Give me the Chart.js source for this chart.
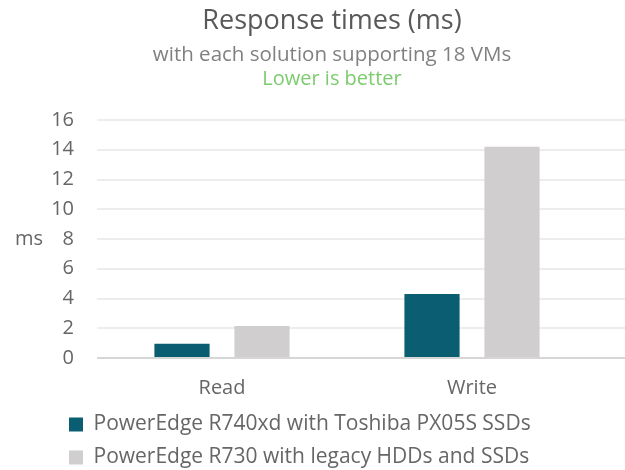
<!DOCTYPE html>
<html lang="en">
<head>
    <meta charset="UTF-8">
    <title>Response times (ms)</title>
    <script src="https://cdn.jsdelivr.net/npm/chart.js"></script>
    <style>
        body { margin: 0; background: #ffffff; overflow: hidden; }
        .chart-box { position: relative; width: 625px; height: 478px; }
    </style>
</head>
<body>
    <div class="chart-box">
        <canvas id="chart"></canvas>
    </div>
    <script>
        const categories = ['Read', 'Write'];
        const seriesNames = ['PowerEdge R740xd with Toshiba PX05S SSDs', 'PowerEdge R730 with legacy HDDs and SSDs'];
        const r740xdValues = [0.95, 4.3];
        const r730Values = [2.15, 14.2];
        const yTicks = [0, 2, 4, 6, 8, 10, 12, 14, 16];

        const font = '"Open Sans", Lato, Arial, sans-serif';

        // header texts, the y-axis "ms" label, grid lines running to the right edge, legend nudge
        const extras = {
            id: 'extras',
            afterLayout(chart) {
                chart.legend.left += 17;
            },
            beforeDatasetsDraw(chart) {
                const { ctx, chartArea, scales } = chart;
                ctx.save();
                ctx.lineWidth = 2;
                yTicks.forEach(v => {
                    const y = Math.round(scales.y.getPixelForValue(v));
                    ctx.strokeStyle = v === 0 ? '#d6d6d6' : '#ededed';
                    ctx.beginPath();
                    ctx.moveTo(chartArea.right, y);
                    ctx.lineTo(chart.width, y);
                    ctx.stroke();
                });
                ctx.restore();
            },
            afterDraw(chart) {
                const { ctx, chartArea } = chart;
                ctx.save();
                ctx.textAlign = 'center';
                ctx.textBaseline = 'alphabetic';
                ctx.font = '27px ' + font;
                ctx.fillStyle = '#595959';
                ctx.fillText('Response times (ms)', 332, 29);
                ctx.font = '20.5px ' + font;
                ctx.fillStyle = '#808080';
                ctx.fillText('with each solution supporting 18 VMs', 332, 61);
                ctx.font = '20px ' + font;
                ctx.fillStyle = '#7ccb6f';
                ctx.fillText('Lower is better', 332, 85);
                ctx.textBaseline = 'middle';
                ctx.fillStyle = '#666666';
                ctx.fillText('ms', 29, (chartArea.top + chartArea.bottom) / 2);
                ctx.restore();
            }
        };

        new Chart(document.getElementById('chart'), {
            type: 'bar',
            data: {
                labels: categories,
                datasets: [
                    { label: seriesNames[0], data: r740xdValues, backgroundColor: '#0b5e72' },
                    { label: seriesNames[1], data: r730Values, backgroundColor: '#d0cecf' }
                ]
            },
            options: {
                responsive: true,
                maintainAspectRatio: false,
                animation: false,
                layout: { padding: { left: 40, right: 28, top: 120, bottom: 0 } },
                datasets: { bar: { categoryPercentage: 0.64, barPercentage: 0.69 } },
                plugins: {
                    legend: {
                        position: 'bottom',
                        align: 'start',
                        labels: {
                            boxWidth: 14,
                            boxHeight: 14,
                            padding: 12,
                            color: '#666666',
                            font: { family: font, size: 21 }
                        }
                    },
                    tooltip: { enabled: false }
                },
                scales: {
                    x: {
                        grid: { display: false },
                        border: { display: false },
                        ticks: { color: '#666666', padding: 10, font: { family: font, size: 20 } },
                        afterFit(scale) { scale.height = 44; }
                    },
                    y: {
                        min: 0,
                        max: 16,
                        border: { display: false },
                        grid: {
                            drawTicks: false,
                            lineWidth: 2,
                            color: c => c.tick.value === 0 ? '#d6d6d6' : '#ededed'
                        },
                        ticks: {
                            stepSize: 2,
                            padding: 23,
                            color: '#666666',
                            font: { family: font, size: 20 }
                        },
                        afterFit(scale) { scale.width = 57; }
                    }
                }
            },
            plugins: [extras]
        });
    </script>
</body>
</html>
